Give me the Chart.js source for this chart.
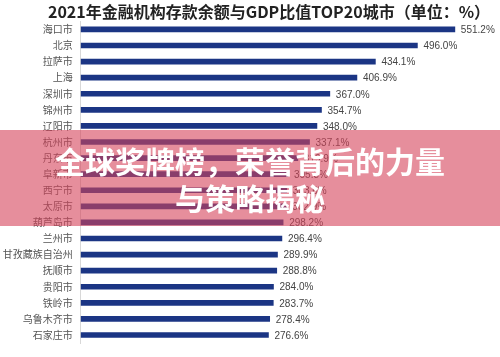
<!DOCTYPE html>
<html><head><meta charset="utf-8">
<script src="https://cdn.jsdelivr.net/npm/chart.js@4.4.0/dist/chart.umd.min.js"></script>
<style>
html,body{margin:0;padding:0;background:#fff;}
#wrap{position:relative;width:500px;height:357px;overflow:hidden;}
#overlay{position:absolute;left:0;top:130px;width:500px;height:96px;background:rgba(213,66,90,0.6);
 color:#fff;font-family:"Noto Sans CJK SC",sans-serif;font-weight:bold;font-size:30px;line-height:37px;text-align:center;padding-top:12px;box-sizing:border-box;letter-spacing:0px;}
</style></head>
<body><div id="wrap"><canvas id="c" width="500" height="357"></canvas>
<div id="overlay">全球奖牌榜，荣誉背后的力量<br>与策略揭秘</div></div>
<script>
const titleText = "2021年金融机构存款余额与GDP比值TOP20城市（单位：%）";
const categories = ["海口市","北京","拉萨市","上海","深圳市","锦州市","辽阳市","杭州市","丹东市","阜新市","西宁市","太原市","葫芦岛市","兰州市","甘孜藏族自治州","抚顺市","贵阳市","铁岭市","乌鲁木齐市","石家庄市"];
const values = [551.2,496.0,434.1,406.9,367.0,354.7,348.0,337.1,319.9,305.3,303.6,302.9,298.2,296.4,289.9,288.8,284.0,283.7,278.4,276.6];

const FONT = '"Noto Sans CJK SC","Noto Sans",sans-serif';
const titlePlugin = {
  id:'titleDraw',
  afterDraw(chart){
    const ctx=chart.ctx; ctx.save();
    ctx.font='bold 16px '+FONT; ctx.fillStyle='#222'; ctx.textAlign='center'; ctx.textBaseline='middle';
    ctx.fillText(titleText,269,12); ctx.restore();
  }
};
const valuePlugin = {
  id:'valueLabels',
  afterDatasetsDraw(chart){
    const ctx=chart.ctx; ctx.save();
    ctx.font='10px "Liberation Sans",Arial,sans-serif'; ctx.fillStyle='#444'; ctx.textAlign='left'; ctx.textBaseline='middle';
    chart.getDatasetMeta(0).data.forEach((bar,i)=>{
      ctx.fillText(values[i].toFixed(1)+'%', bar.x+6, bar.y+1);
    });
    ctx.restore();
  }
};
new Chart(document.getElementById('c'),{
  type:'bar',
  data:{labels:categories,datasets:[{data:values,backgroundColor:'#1b3584',barThickness:5}]},
  options:{
    indexAxis:'y',responsive:false,animation:false,
    layout:{padding:{top:21.4,bottom:4.4,left:0,right:12}},
    plugins:{legend:{display:false},title:{display:false},tooltip:{enabled:false}},
    scales:{
      x:{display:false,min:0,max:600},
      y:{
        grid:{display:false,drawTicks:false},
        border:{display:true,color:'#d8d8d8',width:1},
        ticks:{color:'#555',font:{family:FONT,size:10},padding:8,autoSkip:false},
        afterFit(s){s.width=80.7;}
      }
    }
  },
  plugins:[titlePlugin,valuePlugin]
});
</script></body></html>
